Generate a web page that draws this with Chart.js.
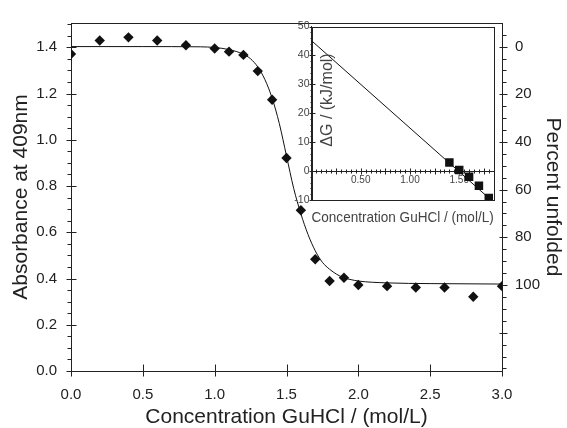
<!DOCTYPE html>
<html>
<head>
<meta charset="utf-8">
<script src="https://cdn.jsdelivr.net/npm/chart.js@4.4.1/dist/chart.umd.min.js"></script>
<style>
  html, body { margin: 0; padding: 0; background: #fff; }
  #wrap { position: relative; width: 567px; height: 428px; overflow: hidden; }
  #main { position: absolute; left: 0; top: 0; }
  #inset { position: absolute; left: 290px; top: 16px; }
</style>
</head>
<body>
<div id="wrap">
  <canvas id="main" width="567" height="428"></canvas>
  <canvas id="inset" width="210" height="212"></canvas>
</div>
<script>
// ---- main chart data ----
const dataX = [0.0, 0.2, 0.4, 0.6, 0.8, 1.0, 1.1, 1.2, 1.3, 1.4, 1.5, 1.6, 1.7, 1.8, 1.9, 2.0, 2.2, 2.4, 2.6, 2.8, 3.0];
const dataY = [1.371, 1.429, 1.443, 1.429, 1.409, 1.395, 1.381, 1.367, 1.297, 1.173, 0.921, 0.695, 0.483, 0.389, 0.403, 0.372, 0.367, 0.361, 0.361, 0.321, 0.367];
// fitted curve
const fitX = [0.0, 0.5, 0.9, 1.0, 1.1, 1.2, 1.25, 1.3, 1.35, 1.4, 1.45, 1.5, 1.55, 1.6, 1.65, 1.7, 1.75, 1.8, 1.85, 1.9, 1.95, 2.0, 2.2, 2.5, 3.0];
const fitY = [1.403, 1.403, 1.402, 1.399, 1.39, 1.37, 1.35, 1.315, 1.26, 1.18, 1.07, 0.93, 0.79, 0.68, 0.59, 0.52, 0.47, 0.44, 0.418, 0.403, 0.395, 0.389, 0.381, 0.378, 0.376];
const percentLabels = [0, 20, 40, 60, 80, 100];

// ---- inset data ----
const insetLineX = [0.0, 1.8];
const insetLineY = [45.1, -9.3];
const insetX = [1.4, 1.5, 1.6, 1.7, 1.8];
const insetY = [3.0, 0.4, -2.0, -5.1, -9.3];
const insetTickLabels = ['0.50', '1.00', '1.50'];

const FONT = "'Liberation Sans', Arial, Helvetica, sans-serif";
const TXT = '#222';
const AXC = '#222';

// tick-mark / frame plugin (uses the chart's own scales for positions)
const tickMarks = {
  id: 'tickMarks',
  beforeDatasetsDraw(chart, args, opts) {
    const ctx = chart.ctx;
    ctx.save();
    ctx.strokeStyle = opts.color || AXC;
    ctx.lineWidth = 1;
    if (opts.frame) {
      const a = chart.chartArea;
      ctx.strokeRect(Math.round(a.left) + 0.5, Math.round(a.top) + 0.5,
        Math.round(a.right) - Math.round(a.left), Math.round(a.bottom) - Math.round(a.top));
    }
    (opts.specs || []).forEach(s => {
      const sc = chart.scales[s.id];
      const horiz = sc.isHorizontal();
      let base, dir;
      if (s.crossAt) {
        base = chart.scales[s.crossAt.id].getPixelForValue(s.crossAt.value);
        dir = 1;
      } else if (horiz) {
        base = sc.position === 'top' ? sc.bottom : sc.top;
        dir = sc.position === 'top' ? -1 : 1;
      } else {
        base = sc.position === 'left' ? sc.right : sc.left;
        dir = sc.position === 'left' ? -1 : 1;
      }
      base = Math.round(base) + 0.5;
      const n0 = Math.ceil(s.from / s.step - 1e-9), n1 = Math.floor(s.to / s.step + 1e-9);
      for (let n = n0; n <= n1; n++) {
        const v = n * s.step;
        const isMaj = s.major && Math.abs(v / s.major - Math.round(v / s.major)) < 1e-6;
        const out = isMaj ? s.majOut : s.minOut;
        const inn = isMaj ? s.majIn : s.minIn;
        const p = Math.round(sc.getPixelForValue(v)) + 0.5;
        ctx.beginPath();
        if (horiz) { ctx.moveTo(p, base - dir * inn); ctx.lineTo(p, base + dir * out); }
        else { ctx.moveTo(base - dir * inn, p); ctx.lineTo(base + dir * out, p); }
        ctx.stroke();
      }
    });
    ctx.restore();
  },
  afterDraw(chart, args, opts) {
    if (!opts.innerTitle) return;
    const t = opts.innerTitle;
    const ctx = chart.ctx;
    ctx.save();
    ctx.translate(t.x, t.y);
    ctx.rotate(-Math.PI / 2);
    ctx.font = t.size + 'px ' + FONT;
    ctx.fillStyle = t.color;
    ctx.textAlign = 'center';
    ctx.textBaseline = 'middle';
    ctx.fillText(t.text, 0, 0);
    ctx.restore();
  }
};

function near(v, step) { return Math.abs(v / step - Math.round(v / step)) < 1e-6; }

const pts = (xs, ys) => xs.map((x, i) => ({ x: x, y: ys[i] }));

const yMax = 1.505;
const abs0 = 1.403, abs100 = 0.372;
const toPct = a => (abs0 - a) / (abs0 - abs100) * 100;

new Chart(document.getElementById('main'), {
  type: 'scatter',
  data: {
    datasets: [
      {
        data: pts(dataX, dataY),
        pointStyle: 'rectRot', pointRadius: 5.2, pointHoverRadius: 5.2,
        backgroundColor: '#111', borderColor: '#111', borderWidth: 0,
        showLine: false
      },
      {
        data: pts(fitX, fitY),
        showLine: true, pointRadius: 0, borderColor: '#111', borderWidth: 1,
        cubicInterpolationMode: 'monotone', fill: false
      }
    ]
  },
  options: {
    responsive: false, animation: false,
    layout: { padding: { top: 14, left: 0, right: 0, bottom: 0 } },
    plugins: {
      legend: { display: false }, tooltip: { enabled: false },
      tickMarks: {
        frame: true,
        specs: [
          { id: 'y', step: 0.05, major: 0.2, from: 0, to: yMax, majOut: 5, majIn: 5, minOut: 4, minIn: 0 },
          { id: 'x', step: 0.5, major: 0.5, from: 0, to: 3, majOut: 5, majIn: 7, minOut: 0, minIn: 0 },
          { id: 'y2', step: 5, major: 20, from: toPct(yMax), to: toPct(0), majOut: 5, majIn: 3, minOut: 4, minIn: 0 }
        ]
      }
    },
    scales: {
      x: {
        type: 'linear', position: 'bottom', min: 0, max: 3,
        afterFit: s => { s.height = 57; },
        grid: { display: false, drawTicks: false },
        border: { display: true, color: AXC, width: 1 },
        ticks: { stepSize: 0.5, padding: 15, color: TXT, font: { family: FONT, size: 15 },
          callback: v => near(v, 0.5) ? v.toFixed(1) : '' },
        title: { display: true, text: 'Concentration GuHCl / (mol/L)', color: TXT,
          font: { family: FONT, size: 21, lineHeight: 1 }, padding: { top: 0, bottom: 0 } }
      },
      y: {
        type: 'linear', position: 'left', min: 0, max: yMax,
        afterFit: s => { s.width = 71; },
        grid: { display: false, drawTicks: false },
        border: { display: true, color: AXC, width: 1 },
        ticks: { stepSize: 0.2, padding: 14, color: TXT, font: { family: FONT, size: 15 },
          callback: v => near(v, 0.2) ? v.toFixed(1) : '' },
        title: { display: true, text: 'Absorbance at 409nm', color: TXT,
          font: { family: FONT, size: 21, lineHeight: 1 }, padding: { top: 11, bottom: 0 } }
      },
      y2: {
        type: 'linear', position: 'right', reverse: true,
        min: toPct(yMax), max: toPct(0),
        afterFit: s => { s.width = 65; },
        grid: { display: false, drawTicks: false },
        border: { display: true, color: AXC, width: 1 },
        ticks: { stepSize: 20, padding: 13, color: TXT, autoSkip: false, font: { family: FONT, size: 15 },
          callback: v => (percentLabels.some(p => Math.abs(p - v) < 1e-6)) ? String(Math.round(v)) : '' },
        title: { display: true, text: 'Percent unfolded', color: TXT,
          font: { family: FONT, size: 21, lineHeight: 1 }, padding: { top: 4, bottom: 0 } }
      }
    }
  },
  plugins: [tickMarks]
});

const ITX = '#444';
new Chart(document.getElementById('inset'), {
  type: 'scatter',
  data: {
    datasets: [
      {
        data: pts(insetX, insetY),
        pointStyle: 'rect', pointRadius: 6, pointHoverRadius: 6,
        backgroundColor: '#111', borderColor: '#111', borderWidth: 0, showLine: false
      },
      {
        data: pts(insetLineX, insetLineY),
        showLine: true, pointRadius: 0, borderColor: '#111', borderWidth: 1, fill: false
      }
    ]
  },
  options: {
    responsive: false, animation: false,
    layout: { padding: { top: 10.5, left: 0, right: 6.3, bottom: 0 } },
    plugins: {
      legend: { display: false }, tooltip: { enabled: false },
      tickMarks: {
        frame: true,
        specs: [
          { id: 'x', step: 0.05, major: 0.25, from: 0, to: 1.85, crossAt: { id: 'y', value: 0 }, majOut: 3, majIn: 3, minOut: 2, minIn: 2 },
          { id: 'y', step: 2, major: 10, from: -10, to: 50, majOut: 3, majIn: 3, minOut: 2, minIn: 0 }
        ],
        innerTitle: { text: 'ΔG / (kJ/mol)', x: 37.5, y: 84, size: 16, color: ITX }
      }
    },
    scales: {
      x: {
        type: 'linear', axis: 'x', position: { y: 0 }, min: 0, max: 1.85,
        grid: { display: false, drawTicks: false },
        border: { display: true, color: AXC, width: 1 },
        afterBuildTicks: s => {
          s.ticks = insetTickLabels.map(t => ({ value: parseFloat(t) }));
        },
        ticks: { padding: 3, color: ITX, autoSkip: false, maxRotation: 0, minRotation: 0,
          font: { family: FONT, size: 10 },
          callback: v => v.toFixed(2) }
      },
      xb: {
        type: 'linear', axis: 'x', position: 'bottom', min: 0, max: 1.85,
        afterFit: s => { s.height = 28; },
        grid: { display: false, drawTicks: false },
        border: { display: false },
        ticks: { display: false },
        title: { display: true, text: 'Concentration GuHCl / (mol/L)', color: ITX,
          font: { family: FONT, size: 15, lineHeight: 1 }, padding: { top: 0, bottom: 2.5 } }
      },
      y: {
        type: 'linear', position: 'left', min: -10, max: 50,
        afterFit: s => { s.width = 21.5; },
        grid: { display: false, drawTicks: false },
        border: { display: true, color: AXC, width: 1 },
        ticks: { stepSize: 10, padding: 2, color: ITX, autoSkip: false, font: { family: FONT, size: 10.5 } }
      }
    }
  },
  plugins: [tickMarks]
});
</script>
</body>
</html>
